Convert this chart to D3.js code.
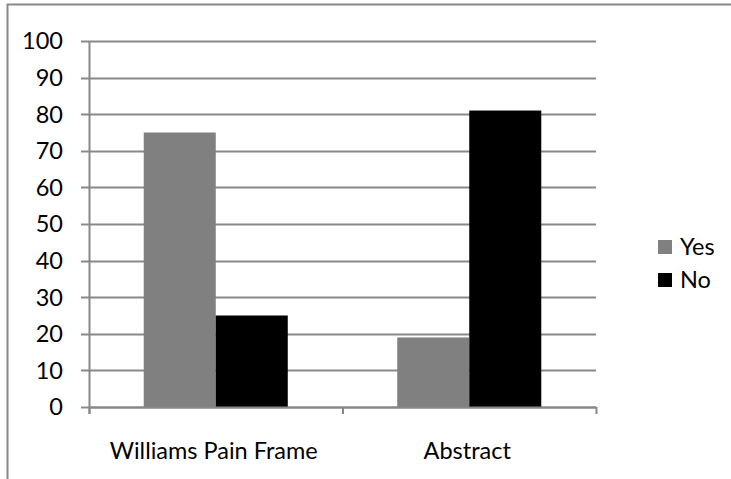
<!DOCTYPE html>
<html><head><meta charset="utf-8">
<script src="https://cdn.jsdelivr.net/npm/d3@7"></script>
<style>body{margin:0;background:#fff}svg{display:block}text{font-family:Lato,"Open Sans",sans-serif;fill:#000}</style>
</head><body>
<svg id="c" width="731" height="479"></svg>
<script>
const categories = ["Williams Pain Frame", "Abstract"];
const seriesNames = ["Yes", "No"];
const yesValues = [75, 19];
const noValues = [25, 81];
const yTicks = [0,10,20,30,40,50,60,70,80,90,100];
const colors = {Yes: "#808080", No: "#000000"};

const svg = d3.select("#c");
const pLeft = 89, pRight = 596, pTop = 41, pBottom = 407;
const grid = "#888888";
const fs = "23.5px";

// outer frame
svg.append("path").attr("d","M7.5,479 L7.5,4.5 L731,4.5").attr("fill","none").attr("stroke",grid).attr("stroke-width",2);

const x = d3.scaleBand().domain(categories).range([pLeft, pRight]).paddingInner(0).paddingOuter(0);
const y = d3.scaleLinear().domain([0,100]).range([pBottom, pTop]);
const xs = d3.scaleBand().domain(seriesNames).range([0, x.bandwidth()]).paddingInner(0).paddingOuter(0.76);

// gridlines
svg.append("g").selectAll("line").data(yTicks).join("line")
  .attr("x1", pLeft-8).attr("x2", pRight).attr("y1", d=>Math.round(y(d))+0.5).attr("y2", d=>Math.round(y(d))+0.5)
  .attr("stroke", grid).attr("stroke-width", 2);

// y labels
svg.append("g").selectAll("text").data(yTicks).join("text")
  .attr("x", 63).attr("y", d=>y(d)).attr("dy","0.36em").attr("text-anchor","end")
  .style("font-size",fs).text(d=>d);

// bars
const data = [];
categories.forEach((c,i)=>{ data.push({c, s:"Yes", v:yesValues[i]}); data.push({c, s:"No", v:noValues[i]}); });
svg.append("g").selectAll("rect").data(data).join("rect")
  .attr("x", d=>x(d.c)+xs(d.s)).attr("width", xs.bandwidth())
  .attr("y", d=>y(d.v)).attr("height", d=>pBottom - y(d.v))
  .attr("fill", d=>colors[d.s]);

// y axis line
svg.append("line").attr("x1",pLeft+0.5).attr("x2",pLeft+0.5).attr("y1",pTop).attr("y2",pBottom+7).attr("stroke",grid).attr("stroke-width",2);
// x axis line
svg.append("line").attr("x1",pLeft).attr("x2",pRight).attr("y1",pBottom+0.5).attr("y2",pBottom+0.5).attr("stroke",grid).attr("stroke-width",2);
// category ticks
const catTicks = [pLeft, x(categories[1]), pRight];
svg.append("g").selectAll("line").data(catTicks).join("line")
  .attr("x1", d=>d+0.5).attr("x2", d=>d+0.5).attr("y1", pBottom).attr("y2", pBottom+7)
  .attr("stroke", grid).attr("stroke-width", 2);

// category labels
svg.append("g").selectAll("text").data(categories).join("text")
  .attr("x", d=>x(d)+x.bandwidth()/2 - 2).attr("y", 459).attr("text-anchor","middle")
  .style("font-size",fs).text(d=>d);

// legend
const lg = svg.append("g").selectAll("g").data(seriesNames).join("g")
  .attr("transform",(d,i)=>`translate(658,${240+i*33})`);
lg.append("rect").attr("width",14).attr("height",14).attr("fill",d=>colors[d]);
lg.append("text").attr("x",22).attr("y",15).style("font-size",fs).text(d=>d);
</script>
</body></html>
